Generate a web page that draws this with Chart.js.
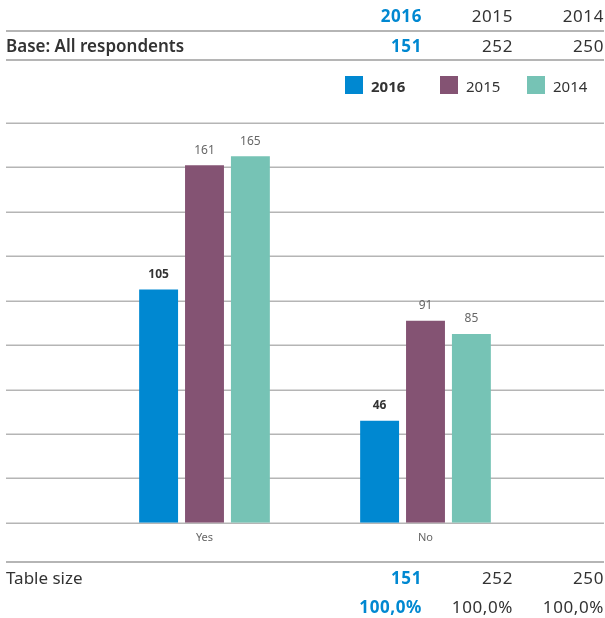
<!DOCTYPE html>
<html>
<head>
<meta charset="utf-8">
<script src="https://cdn.jsdelivr.net/npm/chart.js@4.4.1/dist/chart.umd.min.js"></script>
<style>
  body { margin: 0; background: #fff; font-family: "Noto Sans", sans-serif; color: #333; }
  #wrap { position: relative; width: 605px; height: 618px; overflow: hidden; }
  #myChart { position: absolute; left: 0; top: 0; }
  .row { position: absolute; left: 6px; width: 598px; height: 28px; font-size: 17px; }
  .row span { position: absolute; top: 0; line-height: 28px; white-space: nowrap; }
  .row .lbl { left: 0; }
  .row .c { text-align: right; width: 90px; letter-spacing: 0.6px; }
  .blue { color: #0088d1; font-weight: bold; }
  .line { position: absolute; left: 6px; width: 598px; height: 0; border-top: 2px solid #b5b5b5; }
  #legend { position: absolute; top: 76px; left: 0; width: 605px; height: 20px; font-size: 15px; }
  #legend div { position: absolute; top: 0; height: 20px; line-height: 20px; }
  #legend i { display: inline-block; width: 18px; height: 18px; vertical-align: top; margin-right: 8px; }
</style>
</head>
<body>
<div id="wrap">
  <canvas id="myChart" width="605" height="618"></canvas>
  <div class="row" style="top:2px" id="rowYears"></div>
  <div class="line" style="top:30px"></div>
  <div class="row" style="top:32px" id="rowBase"></div>
  <div class="line" style="top:59px"></div>
  <div id="legend"></div>
  <div class="line" style="top:561px"></div>
  <div class="row" style="top:564px" id="rowSize"></div>
  <div class="row" style="top:593px" id="rowPct"></div>
</div>
<script>
var categories = ['Yes', 'No'];
var years = ['2016', '2015', '2014'];
var values2016 = [105, 46];
var values2015 = [161, 91];
var values2014 = [165, 85];
var baseCounts = ['151', '252', '250'];
var tableSizes = ['151', '252', '250'];
var tablePct = ['100,0%', '100,0%', '100,0%'];
var colors = ['#0088d1', '#845373', '#76c3b5'];

var colRight = [416, 507, 598];

function fillRow(id, label, cells) {
    var row = document.getElementById(id);
    var html = label ? '<span class="lbl"' + (id == 'rowBase' ? ' style="font-weight:600"' : '') + '>' + label + '</span>' : '';
    for (var i = 0; i < cells.length; i++) {
        html += '<span class="c' + (i == 0 ? ' blue' : '') + '" style="left:' + (colRight[i] - 90) + 'px">' + cells[i] + '</span>';
    }
    row.innerHTML = html;
}
fillRow('rowYears', '', years);
fillRow('rowBase', 'Base: All respondents', baseCounts);
fillRow('rowSize', 'Table size', tableSizes);
fillRow('rowPct', '', tablePct);

// legend built from the same series names and colours
var legendLeft = [345, 440, 527];
var legend = document.getElementById('legend');
years.forEach(function (y, i) {
    var d = document.createElement('div');
    d.style.left = legendLeft[i] + 'px';
    d.style.fontWeight = i == 0 ? 'bold' : 'normal';
    d.innerHTML = '<i style="background:' + colors[i] + '"></i>' + y;
    legend.appendChild(d);
});

// horizontal grid lines across the full width
var fullGrid = {
    id: 'fullGrid',
    beforeDatasetsDraw: function (chart) {
        var c = chart.ctx;
        var y = chart.scales.y;
        c.save();
        c.strokeStyle = '#b5b5b5';
        c.lineWidth = 1.5;
        y.ticks.forEach(function (t) {
            var py = Math.round(y.getPixelForValue(t.value)) + 0.25;
            c.beginPath();
            c.moveTo(6, py);
            c.lineTo(604, py);
            c.stroke();
        });
        c.restore();
    }
};

// value labels above each bar
var barLabels = {
    id: 'barLabels',
    afterDatasetsDraw: function (chart) {
        var c = chart.ctx;
        c.save();
        c.textAlign = 'center';
        c.textBaseline = 'bottom';
        chart.data.datasets.forEach(function (ds, i) {
            var meta = chart.getDatasetMeta(i);
            c.font = (i == 0 ? 'bold ' : '') + '12px "Noto Sans"';
            c.fillStyle = i == 0 ? '#333' : '#666';
            meta.data.forEach(function (bar, j) {
                c.fillText(ds.data[j], bar.x, bar.y - 9);
            });
        });
        c.restore();
    }
};

var ctx = document.getElementById('myChart').getContext('2d');
var chart = new Chart(ctx, {
    type: 'bar',
    data: {
        labels: categories,
        datasets: [
            { label: years[0], data: values2016, backgroundColor: colors[0] },
            { label: years[1], data: values2015, backgroundColor: colors[1] },
            { label: years[2], data: values2014, backgroundColor: colors[2] }
        ]
    },
    options: {
        responsive: false,
        animation: false,
        categoryPercentage: 0.623,
        barPercentage: 0.848,
        layout: { padding: { left: 86, right: 69, top: 123, bottom: 74 } },
        plugins: { legend: { display: false }, tooltip: { enabled: false } },
        scales: {
            x: {
                grid: { display: false },
                border: { display: false },
                ticks: { color: '#666', font: { family: 'Noto Sans', size: 11 }, padding: 0 }
            },
            y: {
                min: 0,
                max: 180,
                ticks: { stepSize: 20, display: false },
                grid: { display: false },
                border: { display: false }
            }
        }
    },
    plugins: [fullGrid, barLabels]
});
</script>
</body>
</html>
